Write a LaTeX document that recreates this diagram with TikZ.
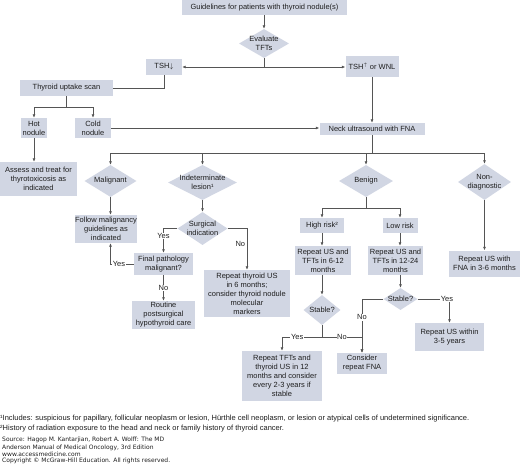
\documentclass[tikz,border=0pt]{standalone}
\usepackage{fontspec}
\setmainfont{Liberation Sans}
\newfontfamily\srcfont{DejaVu Sans}
\usetikzlibrary{shapes.geometric,arrows.meta}
\definecolor{boxc}{RGB}{209,214,227}
\definecolor{linec}{RGB}{85,85,85}
\definecolor{txtc}{RGB}{30,30,30}
\newcommand{\nf}{\fontsize{7.5}{9}\selectfont}
\begin{document}
\begin{tikzpicture}[x=1pt,y=-1pt,
 box/.style={fill=boxc, inner sep=0pt, align=center, font=\nf, text=txtc},
 sz/.style 2 args={minimum width=#1pt, minimum height=#2pt},
 dia/.style={diamond, fill=boxc, inner sep=0pt},
 dtxt/.style={inner sep=0pt, align=center, font=\nf, text=txtc},
 lbl/.style={fill=white, inner sep=0.6pt, font=\nf, text=txtc},
 ln/.style={draw=linec, line width=0.7pt},
 ar/.style={ln, -{Latex[length=3.5pt,width=3pt]}},
 fnote/.style={anchor=base west, inner sep=0pt, font=\fontsize{7.5}{8}\selectfont, text=txtc},
 src/.style={anchor=base west, inner sep=0pt, font=\srcfont\fontsize{6}{6.5}\selectfont, text=txtc},
]
\useasboundingbox[fill=white] (0,0) rectangle (520,464);

% nodes
\node[box, sz={165}{15}] (g) at (264.5,7.5) {Guidelines for patients with thyroid nodule(s)};
\node[dia, sz={50}{29}] (ev) at (264,43.5) {};
\node[dtxt] (evt) at (ev) {Evaluate\\TFTs};
\node[box, sz={36}{16}] (tshd) at (164,67) {TSH$\downarrow$};
\node[box, sz={53}{21}] (tshu) at (372,66.5) {TSH$^{\uparrow}$ or WNL};
\node[box, sz={93}{16}] (up) at (66.5,88) {Thyroid uptake scan};
\node[box, sz={26}{20}] (hot) at (34,128) {Hot\\nodule};
\node[box, sz={36}{20}] (cold) at (93,128) {Cold\\nodule};
\node[box, sz={105}{12}] (neck) at (372,129) {Neck ultrasound with FNA};
\node[box, sz={77}{34}] (assess) at (38.5,179) {Assess and treat for\\thyrotoxicosis as\\indicated};

\node[dia, sz={52}{32}] (mal) at (110.5,181) {};
\node[dtxt] (malt) at (mal) {Malignant};
\node[dia, sz={69}{35}] (ind) at (202.5,182.5) {};
\node[dtxt] (indt) at (ind) {Indeterminate\\lesion¹};
\node[dia, sz={54}{32}] (ben) at (366,181) {};
\node[dtxt] (bent) at (ben) {Benign};
\node[dia, sz={53}{36}] (nd) at (484.5,182) {};
\node[dtxt] (ndt) at (nd) {Non-\\diagnostic};

\node[box, sz={62}{28}] (fol) at (106,229) {Follow malignancy\\guidelines as\\indicated};
\node[dia, sz={50}{33}] (surg) at (202.5,228.5) {};
\node[dtxt] (surgt) at (surg) {Surgical\\indication};
\node[box, sz={59}{22}] (fin) at (163.5,264) {Final pathology\\malignant?};
\node[box, sz={63}{28}] (rou) at (163.5,315) {Routine\\postsurgical\\hypothyroid care};
\node[box, sz={86}{47}] (rep6) at (247,293.5) {Repeat thyroid US\\in 6 months;\\consider thyroid nodule\\molecular\\markers};

\node[box, sz={44}{15}] (hr) at (322,225.5) {High risk²};
\node[box, sz={35}{15}] (lr) at (400,225.5) {Low risk};
\node[box, sz={56}{29}] (r612) at (323,260.5) {Repeat US and\\TFTs in 6-12\\months};
\node[box, sz={55}{29}] (r1224) at (395.5,260.5) {Repeat US and\\TFTs in 12-24\\months};
\node[box, sz={71}{26}] (rfna) at (484.5,263.5) {Repeat US with\\FNA in 3-6 months};
\node[dia, sz={37}{30}] (st1) at (322,310) {};
\node[dtxt] (st1t) at (st1) {Stable?};
\node[dia, sz={34}{22}] (st2) at (400.5,299) {};
\node[dtxt] (st2t) at (st2) {Stable?};
\node[box, sz={80}{50}] (r12) at (282,376) {Repeat TFTs and\\thyroid US in 12\\months and consider\\every 2-3 years if\\stable};
\node[box, sz={50}{21}] (crf) at (362,363.5) {Consider\\repeat FNA};
\node[box, sz={69}{28}] (r35) at (449.5,337) {Repeat US within\\3-5 years};

% connectors
\draw[ar] (g.south -| ev.north) -- (ev.north);
\coordinate (j1) at (264,67);
\draw[ln] (ev.south) -- (j1);
\draw[ar] (j1) -- (tshd.east);
\draw[ar] (j1) -- (j1 -| tshu.west);
\draw[ln] (tshd.south) |- (up.east);
\coordinate (j2) at (66.5,107);
\draw[ln] (up.south) -- (j2);
\draw[ar] (j2) -| (hot.north);
\draw[ar] (j2) -| (cold.north);
\draw[ar] (cold.east) -- (cold.east -| neck.west);
\draw[ar] (tshu.south) -- (neck.north);
\draw[ar] (hot.south) -- (hot.south |- assess.north);

\coordinate (j3) at (372,153);
\draw[ln] (neck.south) -- (j3);
\draw[ar] (j3) -| (mal.north);
\draw[ar] (j3) -| (ind.north);
\draw[ar] (j3) -| (ben.north);
\draw[ar] (j3) -| (nd.north);

\draw[ar] (mal.south) -- (mal.south |- fol.north);
\draw[ar] (ind.south) -- (surg.north);
\draw[ar] (surg.west) -| node[lbl, pos=0.65] {Yes} (fin.north);
\draw[ar] (surg.east) -| node[pos=0.69, left=1.5pt, inner sep=0pt, font=\nf, text=txtc] {No} (rep6.north);
\draw[ar] (fin.west) -| node[lbl, pos=0.32] {Yes} (mal.south |- fol.south);
\draw[ar] (fin.south) -- node[lbl] {No} (rou.north);

\coordinate (j4) at (366,208);
\draw[ln] (ben.south) -- (j4);
\draw[ar] (j4) -| (hr.north);
\draw[ar] (j4) -| (lr.north);
\draw[ar] (hr.south) -- (hr.south |- r612.north);
\draw[ar] (lr.south) -- (lr.south |- r1224.north);
\draw[ar] (nd.south) -- (rfna.north);
\draw[ar] (r612.south -| st1.north) -- (st1.north);
\draw[ar] (r1224.south -| st2.north) -- (st2.north);

\coordinate (j5) at (322,337);
\draw[ln] (st1.south) -- (j5);
\draw[ar] (j5) -| node[lbl, pos=0.31] {Yes} (r12.north);
\draw[ar] (j5) -| node[lbl, pos=0.25] {No} (crf.north);
\draw[ar] (st2.west) -| node[lbl, pos=0.67] {No} (crf.north);
\draw[ar] (st2.east) -| node[lbl, pos=0.46] {Yes} (r35.north);

% footnotes
\node[fnote] (fn1) at (0,420.5) {¹Includes: suspicious for papillary, follicular neoplasm or lesion, Hürthle cell neoplasm, or lesion or atypical cells of undetermined significance.};
\node[fnote] (fn2) at (0,430.5) {²History of radiation exposure to the head and neck or family history of thyroid cancer.};
\node[src] (s1) at (2,441.3) {Source: Hagop M. Kantarjian, Robert A. Wolff: The MD};
\node[src] (s2) at (2,449) {Anderson Manual of Medical Oncology, 3rd Edition};
\node[src] (s3) at (2,456.2) {www.accessmedicine.com};
\node[src] (s4) at (2,462.8) {Copyright © McGraw-Hill Education. All rights reserved.};
\end{tikzpicture}
\end{document}
